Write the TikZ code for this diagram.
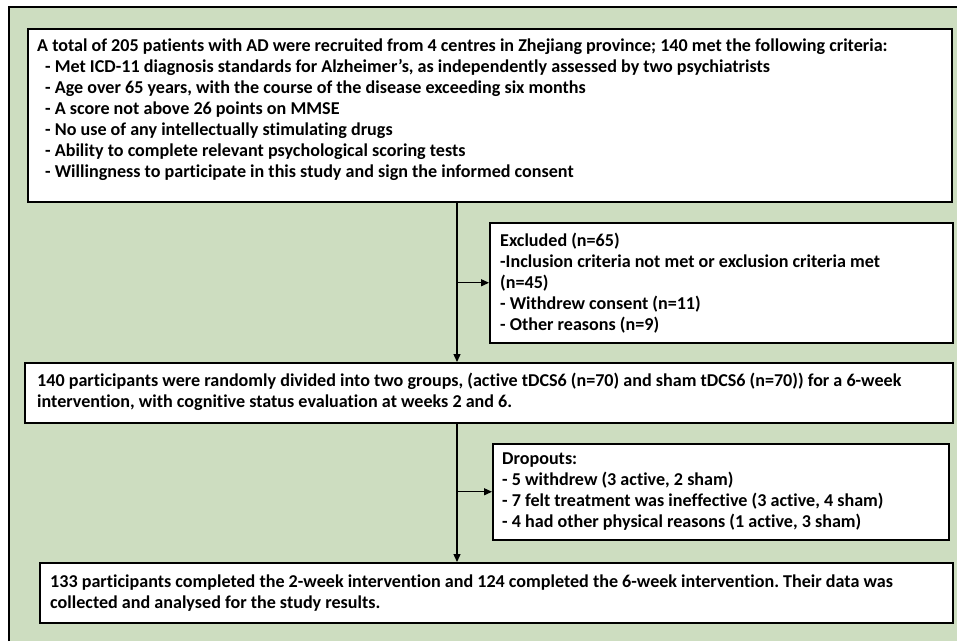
\documentclass[tikz,border=0pt]{standalone}
\usepackage{fontspec}
\setmainfont{Carlito}[Ligatures={NoCommon}]
\usetikzlibrary{arrows.meta}
\definecolor{bgreen}{RGB}{205,221,192}
\tikzset{
  box/.style={draw=black, line width=1.5pt, fill=white, anchor=north west, inner sep=0pt},
  txt/.style={anchor=west, align=left, inner sep=0pt,
    font=\fontsize{18.1}{21}\selectfont\bfseries},
  arr/.style={line width=1.3pt, -{Triangle[length=8pt,width=7pt]}}
}
\newcommand{\ind}{\hspace*{8pt}}
\begin{document}
\frenchspacing
\begin{tikzpicture}[x=1pt,y=-1pt]
\useasboundingbox (0,0) rectangle (957,641);
\fill[bgreen] (9,7) rectangle (957,641);
\draw[line width=2pt] (9,641) |- (957,7);

\node[box, minimum width=924pt, minimum height=173pt] (b1) at (27,28) {};
\node[txt] (b1t) at ([xshift=10pt,yshift=6pt]b1.west)
{A total of 205 patients with AD were recruited from 4 centres in Zhejiang province; 140 met the following criteria:\\
\ind- Met ICD-11 diagnosis standards for Alzheimer’s, as independently assessed by two psychiatrists\\
\ind- Age over 65 years, with the course of the disease exceeding six months\\
\ind- A score not above 26 points on MMSE\\
\ind- No use of any intellectually stimulating drugs\\
\ind- Ability to complete relevant psychological scoring tests\\
\ind- Willingness to participate in this study and sign the informed consent};

\node[box, minimum width=463pt, minimum height=120pt] (ex) at (489,222) {};
\node[txt] (ext) at ([xshift=11pt]ex.west)
{Excluded (n=65)\\
-Inclusion criteria not met or exclusion criteria met\\
(n=45)\\
- Withdrew consent (n=11)\\
- Other reasons (n=9)};

\node[box, minimum width=928pt, minimum height=60pt] (b2) at (24,362) {};
\node[txt] (b2t) at ([xshift=13pt,yshift=1pt]b2.west)
{140 participants were randomly divided into two groups, (active tDCS6 (n=70) and sham tDCS6 (n=70)) for a 6-week\\
intervention, with cognitive status evaluation at weeks 2 and 6.};

\node[box, minimum width=456pt, minimum height=96pt] (dr) at (492,443) {};
\node[txt] (drt) at ([xshift=10pt]dr.west)
{Dropouts:\\
- 5 withdrew (3 active, 2 sham)\\
- 7 felt treatment was ineffective (3 active, 4 sham)\\
- 4 had other physical reasons (1 active, 3 sham)};

\node[box, minimum width=913pt, minimum height=60pt] (b3) at (39,562) {};
\node[txt] (b3t) at ([xshift=11pt]b3.west)
{133 participants completed the 2-week intervention and 124 completed the 6-week intervention. Their data was\\
collected and analysed for the study results.};

\coordinate (v) at (457,0);
\draw[arr] (v |- b1.south) -- (v |- b2.north);
\draw[arr] (v |- ex.west) -- (ex.west);
\draw[arr] (v |- b2.south) -- (v |- b3.north);
\draw[arr] (v |- dr.west) -- (dr.west);
\end{tikzpicture}
\end{document}
